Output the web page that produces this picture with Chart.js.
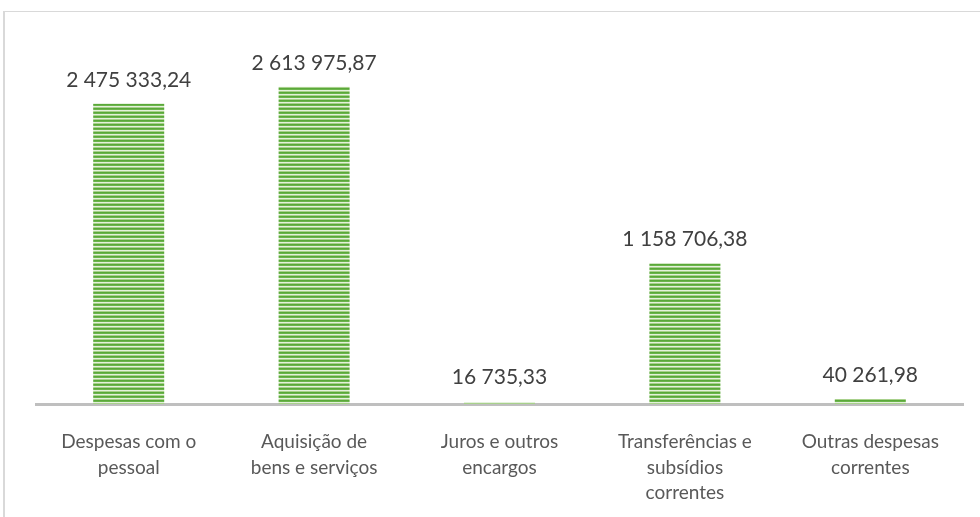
<!DOCTYPE html>
<html>
<head>
<meta charset="utf-8">
<script src="https://cdn.jsdelivr.net/npm/chart.js@4"></script>
<style>
  html, body { margin: 0; padding: 0; background: #fff; overflow: hidden; }
  #wrap { position: absolute; left: 0; top: 0; width: 980px; height: 517px; }
  #frame { position: absolute; left: 3px; top: 11px; width: 1000px; height: 600px; border: 1px solid #d9d9d9; border-width: 1px 0 0 2px; }
</style>
</head>
<body>
<div id="frame"></div>
<div id="wrap"><canvas id="myChart" width="980" height="517"></canvas></div>
<script>
const categories = [
  ["Despesas com o", "pessoal"],
  ["Aquisição de", "bens e serviços"],
  ["Juros e outros", "encargos"],
  ["Transferências e", "subsídios", "correntes"],
  ["Outras despesas", "correntes"]
];
const values = [2475333.24, 2613975.87, 16735.33, 1158706.38, 40261.98];

// number like "2 475 333,24"
function fmt(v) {
  var parts = v.toFixed(2).split(".");
  var int = parts[0].replace(/\B(?=(\d{3})+(?!\d))/g, " ");
  return int + "," + parts[1];
}

// striped green fill
function stripes() {
  var c = document.createElement("canvas");
  c.width = 4; c.height = 4;
  var g = c.getContext("2d");
  var rows = ["#5aa83a", "#6cb54b", "#e4f1dc", "#a8d18c"];
  rows.forEach(function (col, i) { g.fillStyle = col; g.fillRect(0, i, 4, 1); });
  return g.createPattern(c, "repeat");
}

const valueLabels = {
  id: "valueLabels",
  afterDatasetsDraw(chart) {
    const ctx = chart.ctx;
    const meta = chart.getDatasetMeta(0);
    ctx.save();
    ctx.font = "21px Lato";
    ctx.fillStyle = "#404040";
    ctx.textAlign = "center";
    ctx.textBaseline = "alphabetic";
    meta.data.forEach(function (bar, i) {
      ctx.fillText(fmt(values[i]), bar.x, Math.min(bar.y, 401) - 17);
    });
    ctx.restore();
  }
};

const ctx = document.getElementById("myChart").getContext("2d");

const barChart = new Chart(ctx, {
  type: "bar",
  data: {
    labels: categories,
    datasets: [{
      data: values,
      backgroundColor: stripes(),
      borderWidth: 0,
      categoryPercentage: 1,
      barPercentage: 0.383
    }]
  },
  options: {
    responsive: false,
    animation: false,
    layout: { padding: { left: 36, right: 17, top: 40, bottom: 0 } },
    plugins: { legend: { display: false }, tooltip: { enabled: false } },
    scales: {
      x: {
        grid: { display: false },
        border: { color: "#bfbfbf", width: 3 },
        ticks: {
          color: "#595959",
          font: { family: "Lato", size: 19, lineHeight: 1.35 },
          padding: 17,
          maxRotation: 0,
          autoSkip: false
        },
        afterFit(scale) { scale.height = 113; }
      },
      y: {
        display: false,
        min: 0,
        max: 3000000
      }
    }
  },
  plugins: [valueLabels]
});
</script>
</body>
</html>
